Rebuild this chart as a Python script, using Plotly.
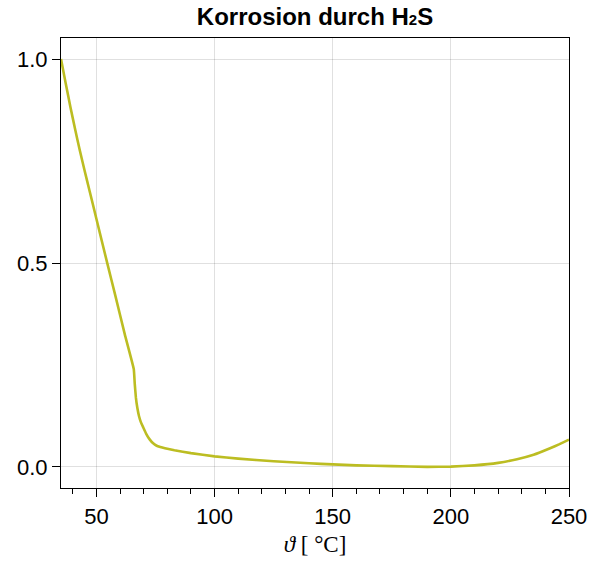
import plotly.graph_objects as go

# Relative corrosion rate by H2S versus temperature
temperature_c = [35, 37, 39, 41, 43, 45, 47, 50, 54.6, 58, 62, 65.8, 66.2, 66.7, 67.3,
                 68, 68.8, 69.8, 71, 72.6, 74, 75.5, 77, 79, 83, 90, 100, 110, 125,
                 140, 150, 160, 175, 190, 200, 210, 220, 228, 235, 242, 246, 250]
corrosion_rel = [1.0, 0.94, 0.882, 0.827, 0.775, 0.726, 0.679, 0.608, 0.499, 0.42, 0.325,
                 0.24, 0.205, 0.17, 0.145, 0.125, 0.11, 0.097, 0.082, 0.067, 0.058, 0.052,
                 0.049, 0.046, 0.041, 0.034, 0.026, 0.0205, 0.014, 0.009, 0.0065, 0.004,
                 0.002, 0.0004, 0.001, 0.004, 0.01, 0.019, 0.03, 0.046, 0.056, 0.067]

x_tickvals = [50, 100, 150, 200, 250]
y_tickvals = [0.0, 0.5, 1.0]
y_ticktext = ["0.0", "0.5", "1.0"]

fig = go.Figure()
fig.add_trace(go.Scatter(
    x=temperature_c, y=corrosion_rel, mode="lines",
    line=dict(color="#bcbd22", width=2.6, shape="spline", smoothing=0.3),
    showlegend=False, hoverinfo="skip",
))

axis_common = dict(
    showline=True, linecolor="black", linewidth=1.2, mirror=True,
    showgrid=True, gridcolor="rgba(0,0,0,0.12)", gridwidth=1,
    zeroline=False, ticks="outside", tickcolor="black", ticklen=8, tickwidth=1.2,
    tickfont=dict(family="Liberation Sans, Arial, sans-serif", size=22, color="black"),
    automargin=False,
)

fig.update_xaxes(
    range=[35, 250], tickvals=x_tickvals,
    minor=dict(dtick=10, tick0=0, ticks="outside", ticklen=5, tickcolor="black",
               tickwidth=1.2, showgrid=False),
    title=dict(text="<i>ϑ</i> [ °C]",
               font=dict(family="Liberation Serif, DejaVu Serif, serif", size=23, color="black"),
               standoff=8),
    **axis_common,
)
fig.update_yaxes(
    range=[-0.0515, 1.0515], tickvals=y_tickvals, ticktext=y_ticktext,
    **axis_common,
)

fig.update_layout(
    width=593, height=568,
    margin=dict(l=61, r=24, t=38, b=80),
    paper_bgcolor="white", plot_bgcolor="white",
    title=dict(text="<b>Korrosion durch H<span style=\"font-size:15px\">2</span>S</b>",
               xref="paper", x=0.5, xanchor="center", y=1 - 17 / 568, yanchor="middle",
               font=dict(family="Liberation Sans, Arial, sans-serif", size=24, color="black")),
)

fig.write_html("out.html")
